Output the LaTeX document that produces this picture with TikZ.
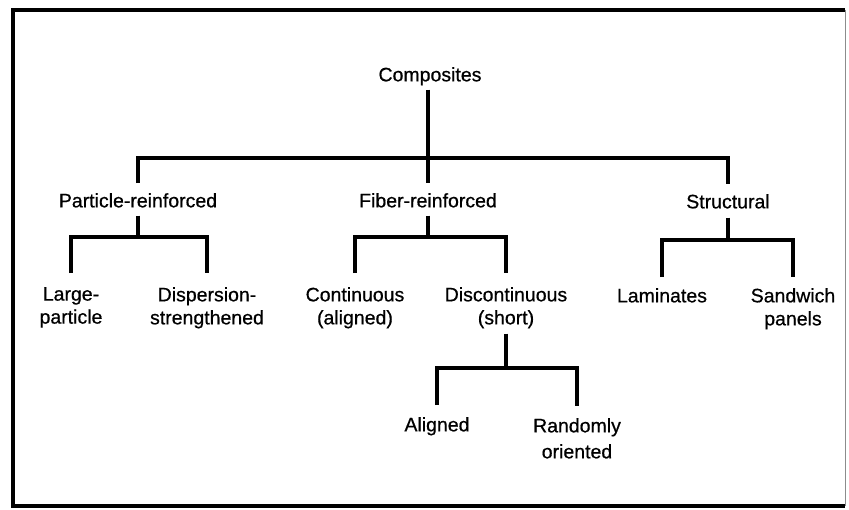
\documentclass[tikz,border=0pt]{standalone}
\usepackage{fontspec}
\setmainfont{Liberation Sans}
\newfontfamily\labelfont[FakeBold=0.6]{Liberation Sans}
\begin{document}
\begin{tikzpicture}[x=1pt,y=-1pt,
  lbl/.style={font=\labelfont\fontsize{19.5}{23}\selectfont, align=center, inner sep=0pt, anchor=north},
  link/.style={line width=3.4pt, line join=miter}]
  % canvas
  \useasboundingbox (0,0) rectangle (849,509);
  \fill[white] (0,0) rectangle (849,509);
  % outer frame
  \draw[line width=4pt, line join=miter] (845,10) -- (13,10) -- (13,506) -- (845,506);
  \draw[line width=1pt, black!45] (845,10) -- (845,506);

  % labels
  \node[lbl] (comp) at (430,67)  {Composites};
  \node[lbl] (pr)   at (138,193) {Particle-reinforced};
  \node[lbl] (fr)   at (428,193) {Fiber-reinforced};
  \node[lbl] (st)   at (728,194) {Structural};
  \node[lbl] (lp)   at (71,287)  {Large-\\particle};
  \node[lbl] (ds)   at (207,287) {Dispersion-\\strengthened};
  \node[lbl] (ca)   at (355,287) {Continuous\\(aligned)};
  \node[lbl] (dc)   at (506,287) {Discontinuous\\(short)};
  \node[lbl] (lam)  at (662,288) {Laminates};
  \node[lbl] (sw)   at (793,288) {Sandwich\\panels};
  \node[lbl] (al)   at (437,417) {Aligned};
  \node[lbl, font=\labelfont\fontsize{19.5}{26}\selectfont] (ro) at (577,418) {Randomly\\oriented};

  % junction points of the branch bars
  \coordinate (j0) at (428,158);
  \coordinate (j1) at (138,237);
  \coordinate (j2) at (428,237);
  \coordinate (j3) at (728,240);
  \coordinate (j4) at (506,368);

  % Composites
  \draw[link, shorten <=4pt] (j0 |- comp.south) -- (j0);
  \draw[link, shorten <=10pt, shorten >=10pt] (pr.north) |- (j0) -| (st.north);
  \draw[link, shorten >=10pt] (j0) -- (fr.north);

  % Particle-reinforced
  \draw[link, shorten <=8pt] (pr.south) -- (j1);
  \draw[link, shorten <=14pt, shorten >=14pt] (lp.north) |- (j1) -| (ds.north);

  % Fiber-reinforced
  \draw[link, shorten <=8pt] (fr.south) -- (j2);
  \draw[link, shorten <=14pt, shorten >=14pt] (ca.north) |- (j2) -| (dc.north);

  % Structural
  \draw[link, shorten <=9pt] (st.south) -- (j3);
  \draw[link, shorten <=11pt, shorten >=11pt] (lam.north) |- (j3) -| (sw.north);

  % Discontinuous
  \draw[link, shorten <=5pt] (dc.south) -- (j4);
  \draw[link, shorten <=12pt, shorten >=12pt] (al.north) |- (j4) -| (ro.north);
\end{tikzpicture}
\end{document}
